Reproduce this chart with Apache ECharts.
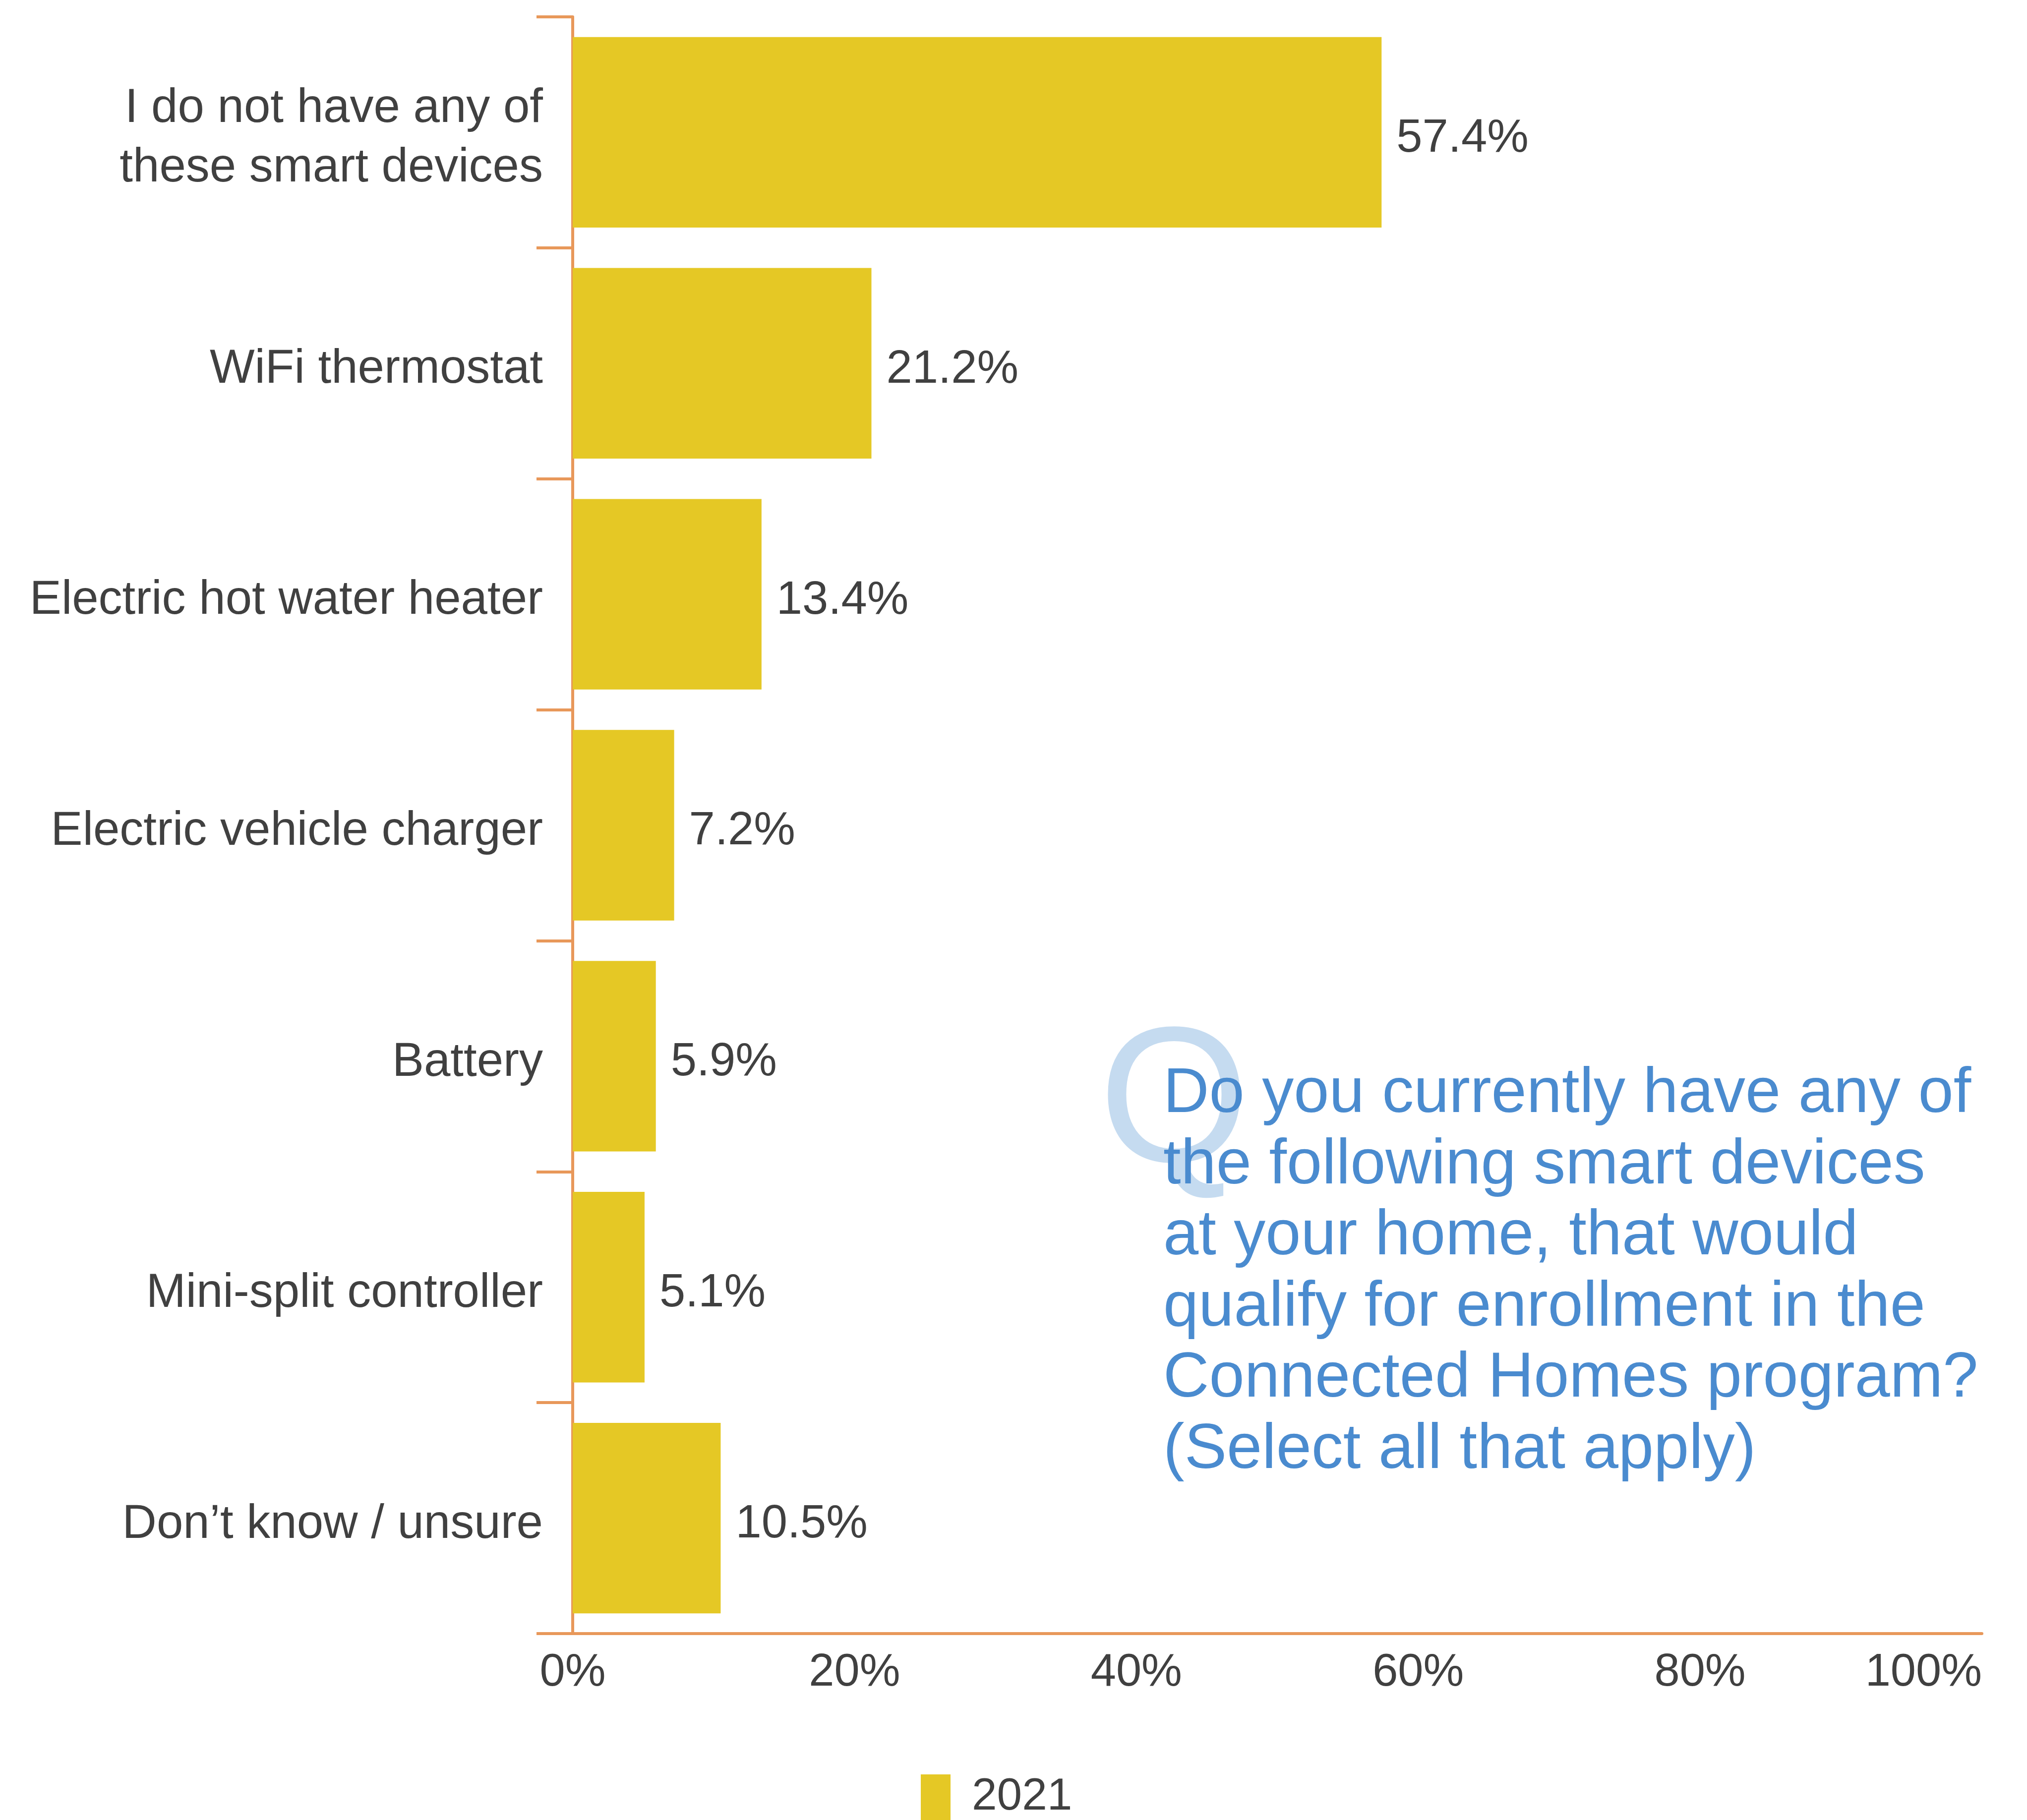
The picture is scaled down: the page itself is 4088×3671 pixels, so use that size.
<!DOCTYPE html>
<html>
<head>
<meta charset="utf-8">
<script src="https://cdn.jsdelivr.net/npm/echarts@6/dist/echarts.min.js"></script>
<style>
  html, body { margin: 0; padding: 0; background: #ffffff; }
  #chart { width: 4088px; height: 3671px; }
</style>
</head>
<body>
<div id="chart"></div>
<script>
// Smart devices at home (share of respondents, %)
const categories = [
  'I do not have any of\nthese smart devices',
  'WiFi thermostat',
  'Electric hot water heater',
  'Electric vehicle charger',
  'Battery',
  'Mini-split controller',
  'Don\u2019t know / unsure'
];
const values2021 = [57.4, 21.2, 13.4, 7.2, 5.9, 5.1, 10.5];
const seriesName = '2021';
const xTicks = [0, 20, 40, 60, 80, 100];
const questionLines = [
  'Do you currently have any of',
  'the following smart devices',
  'at your home, that would',
  'qualify for enrollment in the',
  'Connected Homes program?',
  '(Select all that apply)'
];

const FONT = '"Liberation Sans", Arial, sans-serif';
const TEXT = '#404040';
const AXIS = '#E8985A';
const BAR = '#E5C825';

const chart = echarts.init(document.getElementById('chart'), null, { renderer: 'canvas' });

chart.setOption({
  backgroundColor: '#ffffff',
  animation: false,
  grid: { left: 1155, right: 91, top: 34, bottom: 376, containLabel: false },
  xAxis: {
    type: 'value',
    min: xTicks[0],
    max: xTicks[xTicks.length - 1],
    interval: xTicks[1] - xTicks[0],
    axisLine: { show: true, lineStyle: { color: AXIS, width: 6 } },
    axisTick: { show: false },
    splitLine: { show: false },
    axisLabel: {
      formatter: '{value}%',
      fontFamily: FONT,
      fontSize: 92,
      color: TEXT,
      margin: 34,
      alignMaxLabel: 'right'
    }
  },
  yAxis: {
    type: 'category',
    data: categories,
    inverse: true,
    axisLine: { show: true, lineStyle: { color: AXIS, width: 6 } },
    axisTick: { show: true, length: 73, lineStyle: { color: AXIS, width: 6 } },
    axisLabel: {
      margin: 60,
      align: 'right',
      // each line sits a little low in its 120px row
      formatter: (v) => v.split('\n').map((s) => '{l|' + s + '}').join('\n'),
      rich: {
        l: {
          fontFamily: FONT,
          fontSize: 96,
          lineHeight: 120,
          padding: [26, 0, 0, 0],
          color: TEXT,
          align: 'right'
        }
      }
    }
  },
  legend: {
    left: 1852,
    top: 3574,
    icon: 'rect',
    itemWidth: 60,
    itemHeight: 92,
    itemGap: 20,
    textStyle: { fontFamily: FONT, fontSize: 91, color: TEXT, padding: [0, 0, 0, 38] },
    data: [seriesName]
  },
  series: [{
    name: seriesName,
    type: 'bar',
    data: values2021,
    barCategoryGap: '17.5%',
    itemStyle: { color: BAR },
    label: {
      show: true,
      position: 'right',
      distance: 30,
      offset: [0, 13],
      formatter: '{c}%',
      fontFamily: FONT,
      fontSize: 94,
      color: TEXT
    }
  }],
  graphic: [
    {
      type: 'text',
      z: 1,
      left: 2216,
      top: 2040,
      style: {
        text: 'Q',
        fontFamily: FONT,
        fontSize: 390,
        fill: '#C5DBF0'
      }
    },
    {
      type: 'text',
      z: 10,
      left: 2346,
      top: 2136,
      style: {
        text: questionLines.join('\n'),
        fontFamily: FONT,
        fontSize: 128,
        lineHeight: 143.5,
        fill: '#4A8BCF'
      }
    }
  ]
});
</script>
</body>
</html>
